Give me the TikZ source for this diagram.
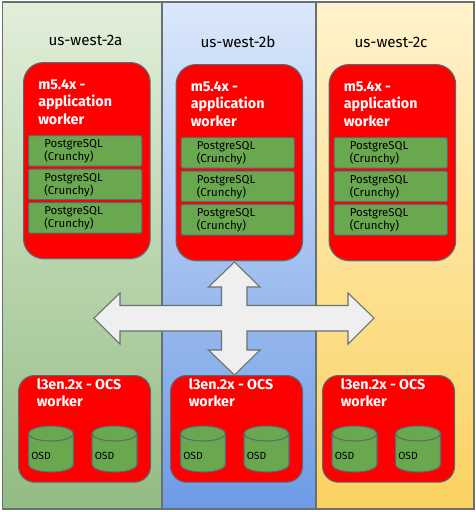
\documentclass[tikz,border=0pt]{standalone}
\usepackage{xcolor}
\usepackage{fontspec}
\setmainfont{Fira Sans}
\usepackage{tikz}
\usetikzlibrary{positioning,shadows}
\definecolor{PanelLine}{RGB}{105,112,112}
\definecolor{WorkerRed}{RGB}{255,0,0}
\definecolor{OsdGreen}{RGB}{106,168,79}
\definecolor{ArrowGrey}{RGB}{239,239,239}
\definecolor{EdgeGrey}{RGB}{90,105,115}
\definecolor{GreenTop}{RGB}{226,239,218}
\definecolor{GreenEnd}{RGB}{147,187,131}
\definecolor{BlueTop}{RGB}{219,232,251}
\definecolor{BlueEnd}{RGB}{109,155,229}
\definecolor{GoldTop}{RGB}{255,242,204}
\definecolor{GoldEnd}{RGB}{251,210,96}

\begin{document}
\begin{tikzpicture}[
    x=0.75pt, y=-0.75pt,
    panel/.style={draw=PanelLine, line width=1pt, inner sep=0pt, outer sep=0pt, anchor=north west, minimum height=380.25pt},
    zonelabel/.style={font=\fontsize{11.4}{12}\selectfont, text=black, inner sep=0pt},
    appworker/.style={draw=EdgeGrey, line width=0.8pt, fill=WorkerRed, rounded corners=15pt, minimum width=95pt, minimum height=147pt, anchor=north west, inner sep=0pt, drop shadow={shadow xshift=0pt, shadow yshift=-1pt, opacity=0.25}},
    ocsworker/.style={draw=EdgeGrey, line width=0.8pt, fill=WorkerRed, rounded corners=12pt, minimum width=99pt, minimum height=80pt, anchor=north west, inner sep=0pt},
    worktitle/.style={font=\fontsize{10.7}{13.1}\selectfont\bfseries, text=white, align=left, anchor=north west, inner sep=0pt},
    dbbox/.style={draw=EdgeGrey, line width=0.8pt, fill=OsdGreen, rounded corners=1.5pt, minimum width=85pt, minimum height=23pt, anchor=north west, inner sep=0pt},
    dbtext/.style={font=\fontsize{8.6}{10}\selectfont, text=black, align=left, anchor=west, inner sep=0pt},
    osdshape/.style={draw=EdgeGrey, line width=0.8pt, fill=OsdGreen},
    osdtext/.style={font=\fontsize{7.8}{9}\selectfont, text=black, anchor=west, inner sep=0pt}
]
\useasboundingbox (0,0) rectangle (476,512);

% zones
\node[panel, top color=GreenTop, bottom color=GreenEnd, minimum width=119.5pt] (zonea) at (2.5,2) {};
\node[panel, top color=BlueTop, bottom color=BlueEnd, minimum width=115.5pt] (zoneb) at (162,2) {};
\node[panel, top color=GoldTop, bottom color=GoldEnd, minimum width=118.5pt] (zonec) at (316,2) {};
\node[zonelabel] (labela) at (85.5,40) {us-west-2a};
\node[zonelabel] (labelb) at (238,42) {us-west-2b};
\node[zonelabel] (labelc) at (391,42) {us-west-2c};

% application workers
\foreach \zone/\wx/\wy in {a/23/62, b/175.5/64, c/328.5/64} {
    \node[appworker] (app\zone) at (\wx,\wy) {};
    \node[worktitle] (apptitle\zone) at (\wx+15,\wy+17) {m5.4x -\\application\\worker};
    \foreach \n/\dy in {1/73, 2/106.5, 3/140} {
        \node[dbbox] (db\zone\n) at (\wx+5,\wy+\dy) {};
        \node[dbtext] (dbtext\zone\n) at (\wx+21,\wy+\dy+16.5) {PostgreSQL\\(Crunchy)};
    }
}

% ocs workers
\foreach \zone/\wx in {a/18, b/170, c/322} {
    \node[ocsworker] (ocs\zone) at (\wx,375) {};
    \node[worktitle] (ocstitle\zone) at (\wx+18.5,378) {l3en.2x - OCS\\worker};
}
\foreach \zone/\n/\ox in {a/1/51, a/2/114.5, b/1/203, b/2/266.5, c/1/354.5, c/2/418} {
    \draw[osdshape] (\ox-22.5,433.5) -- (\ox-22.5,464.5)
        arc[start angle=180, end angle=0, x radius=22.5, y radius=7.5]
        -- (\ox+22.5,433.5);
    \draw[osdshape] (\ox,433.5) ellipse[x radius=22.5, y radius=7.5];
    \node[osdtext] (osdtext\zone\n) at (\ox-20,456) {OSD};
}

% four way arrow
\draw[draw=PanelLine, line width=0.8pt, fill=ArrowGrey, line join=miter]
    (94,318) -- (120,293) -- (120,305.5) -- (221.5,305.5) -- (221.5,287) -- (208.5,287)
    -- (234.5,262) -- (260,287) -- (247,287) -- (247,305.5) -- (348,305.5) -- (348,293)
    -- (374,318) -- (348,344) -- (348,331) -- (247,331) -- (247,350) -- (260,350)
    -- (234.5,375) -- (208.5,350) -- (221.5,350) -- (221.5,331) -- (120,331) -- (120,344) -- cycle;
\end{tikzpicture}
\end{document}
